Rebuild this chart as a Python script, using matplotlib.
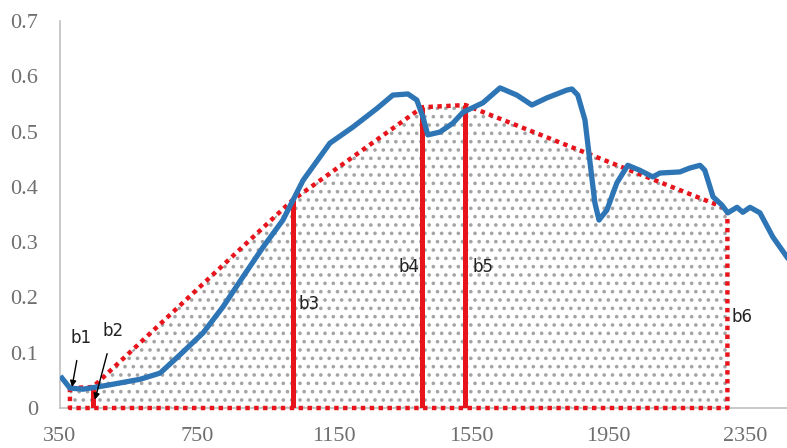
import matplotlib
matplotlib.use("Agg")
import matplotlib.pyplot as plt

# reflectance curve
wl = [356, 379, 417, 458, 496, 584, 642, 700, 768, 826, 884, 943, 1001, 1060,
      1138, 1205, 1276, 1322, 1366, 1392, 1410, 1424, 1459, 1497, 1527, 1585,
      1635, 1684, 1728, 1772, 1830, 1845, 1862, 1883, 1897, 1912, 1924, 1947,
      1976, 2008, 2043, 2081, 2102, 2160, 2189, 2219, 2233, 2257, 2283, 2300,
      2327, 2344, 2365, 2394, 2432, 2473]
refl = [0.054, 0.036, 0.034, 0.038, 0.042, 0.052, 0.063, 0.096, 0.136, 0.183,
        0.237, 0.291, 0.340, 0.412, 0.479, 0.508, 0.542, 0.566, 0.568, 0.557,
        0.526, 0.494, 0.499, 0.515, 0.535, 0.552, 0.579, 0.566, 0.548, 0.561,
        0.575, 0.577, 0.566, 0.521, 0.448, 0.371, 0.340, 0.358, 0.407, 0.439,
        0.430, 0.418, 0.425, 0.427, 0.434, 0.439, 0.430, 0.382, 0.367, 0.353,
        0.363, 0.354, 0.363, 0.353, 0.309, 0.273]

# hull points (bands)
bands = ["b1", "b2", "b3", "b4", "b5", "b6"]
band_wl = [379, 446, 1029, 1408, 1534, 2299]
band_val = [0.036, 0.038, 0.376, 0.544, 0.548, 0.360]

xticks = [350, 750, 1150, 1550, 1950, 2350]
yticks = [0, 0.1, 0.2, 0.3, 0.4, 0.5, 0.6, 0.7]

red = "#e8141c"
blue = "#2e75b6"
grey = "#6f6f6f"

fig = plt.figure(figsize=(7.87, 4.48), dpi=100)
ax = fig.add_axes([60 / 787, 40 / 448, 727 / 787, 387 / 448])

# hatched area under the hull
plt.rcParams["hatch.color"] = "#a4a4a4"
plt.rcParams["hatch.linewidth"] = 1.4
ax.fill_between(band_wl, 0, band_val, facecolor="none", edgecolor="#a4a4a4",
                hatch="..", linewidth=0, zorder=1)

# hull outline, dotted
hx = band_wl + [band_wl[-1], band_wl[0], band_wl[0]]
hy = band_val + [0, 0, band_val[0]]
ax.plot(hx, hy, color=red, lw=3.2, linestyle=(0, (1, 1)), solid_capstyle="butt",
        dash_capstyle="butt", clip_on=False, zorder=3)

# solid band lines
for i in range(1, 5):
    ax.plot([band_wl[i], band_wl[i]], [0, band_val[i]], color=red, lw=3.6,
            solid_capstyle="butt", zorder=3)

ax.plot(wl, refl, color=blue, lw=3.8, solid_joinstyle="round", zorder=4)

# labels
tf = dict(fontsize=12, color="#222222", family="DejaVu Sans")
ax.annotate("b1", xy=(385, 0.038), xytext=(411, 0.127), ha="center", va="center",
            arrowprops=dict(arrowstyle="-|>", color="black", lw=1, mutation_scale=9,
                            shrinkA=8, shrinkB=0), zorder=5, **tf)
ax.annotate("b2", xy=(452, 0.015), xytext=(505, 0.139), ha="center", va="center",
            arrowprops=dict(arrowstyle="-|>", color="black", lw=1, mutation_scale=9,
                            shrinkA=8, shrinkB=0), zorder=5, **tf)
ax.text(1046, 0.188, "b3", ha="left", va="center", **tf)
ax.text(1400, 0.255, "b4", ha="right", va="center", **tf)
ax.text(1555, 0.255, "b5", ha="left", va="center", **tf)
ax.text(2312, 0.165, "b6", ha="left", va="center", **tf)

ax.set_xlim(350, 2473)
ax.set_ylim(0, 0.7)
ax.set_xticks(xticks)
ax.set_xticklabels([str(t) for t in xticks])
ax.set_yticks(yticks)
ax.set_yticklabels(["0", "0.1", "0.2", "0.3", "0.4", "0.5", "0.6", "0.7"])
ax.tick_params(length=0, labelsize=16, labelcolor=grey)
ax.tick_params(axis="x", pad=14)
ax.tick_params(axis="y", pad=16)
for lab in ax.get_xticklabels() + ax.get_yticklabels():
    lab.set_family("Liberation Serif")

for s in ["top", "right"]:
    ax.spines[s].set_visible(False)
for s in ["left", "bottom"]:
    ax.spines[s].set_color("#c0c0c0")
    ax.spines[s].set_linewidth(1.2)

fig.savefig("out.png", dpi=100)
